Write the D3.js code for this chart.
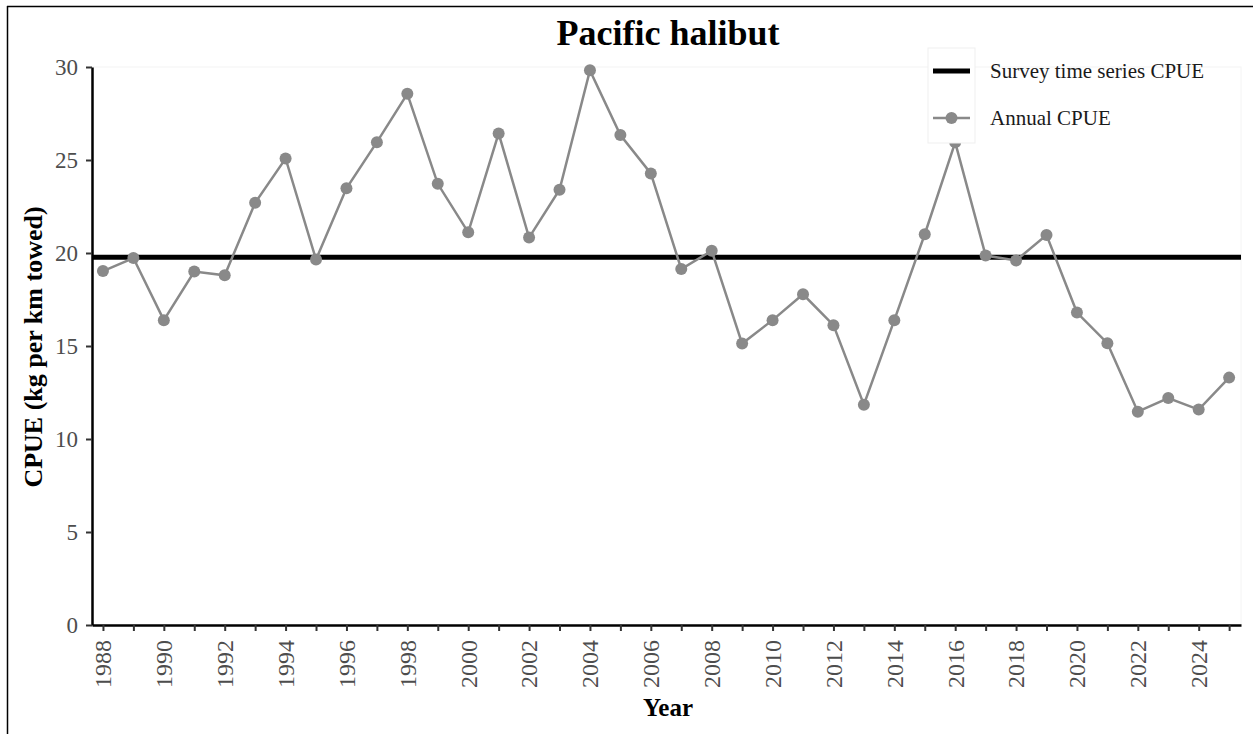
<!DOCTYPE html>
<html>
<head>
<meta charset="utf-8">
<script src="https://cdn.jsdelivr.net/npm/d3@7"></script>
<style>
  html, body { margin: 0; padding: 0; background: #fff; }
  svg { display: block; }
  text { font-family: "Liberation Serif", "Times New Roman", serif; }
</style>
</head>
<body>
<svg id="chart" width="1253" height="734"></svg>
<script>
const title = "Pacific halibut";
const years = [1988,1989,1990,1991,1992,1993,1994,1995,1996,1997,1998,1999,2000,2001,2002,2003,2004,2005,2006,2007,2008,2009,2010,2011,2012,2013,2014,2015,2016,2017,2018,2019,2020,2021,2022,2023,2024,2025];
const annualCPUE = [19.03,19.73,16.39,19.0,18.8,22.7,25.08,19.65,23.48,25.96,28.56,23.72,21.11,26.43,20.83,23.4,29.82,26.34,24.28,19.14,20.12,15.13,16.39,17.78,16.12,11.84,16.39,21.01,25.95,19.86,19.6,20.97,16.8,15.15,11.47,12.2,11.58,13.3];
const surveyCPUE = 19.77;
const yTicks = [0,5,10,15,20,25,30];
const xLabelYears = [1988,1990,1992,1994,1996,1998,2000,2002,2004,2006,2008,2010,2012,2014,2016,2018,2020,2022,2024];
const legendLabels = ["Survey time series CPUE", "Annual CPUE"];

const svg = d3.select("#chart");
const pLeft = 92, pRight = 1241, pTop = 67, pBottom = 625;

const x = d3.scaleLinear().domain([1987.64, 2025.39]).range([pLeft, pRight]);
const y = d3.scaleLinear().domain([0, 30]).range([pBottom, pTop]);

// outer frame (top and left)
svg.append("line").attr("x1", 7).attr("x2", 1253).attr("y1", 6.5).attr("y2", 6.5)
  .attr("stroke", "#000").attr("stroke-width", 1.5);
svg.append("line").attr("x1", 7.5).attr("x2", 7.5).attr("y1", 6).attr("y2", 734)
  .attr("stroke", "#000").attr("stroke-width", 1.5);

// faint panel border
svg.append("rect").attr("x", pLeft).attr("y", pTop).attr("width", pRight - pLeft).attr("height", pBottom - pTop)
  .attr("fill", "none").attr("stroke", "#f4f4f4").attr("stroke-width", 1);

// title
svg.append("text").attr("x", 668).attr("y", 45).attr("text-anchor", "middle")
  .attr("font-size", 36).attr("font-weight", "bold").attr("fill", "#000").text(title);

// survey line
svg.append("line")
  .attr("x1", pLeft).attr("x2", pRight)
  .attr("y1", y(surveyCPUE)).attr("y2", y(surveyCPUE))
  .attr("stroke", "#000").attr("stroke-width", 5);

// annual line
const data = years.map((yr, i) => ({ yr, v: annualCPUE[i] }));
const gray = "#898989";
svg.append("path").datum(data)
  .attr("fill", "none").attr("stroke", gray).attr("stroke-width", 2.5)
  .attr("d", d3.line().x(d => x(d.yr)).y(d => y(d.v)));
svg.append("g").selectAll("circle").data(data).join("circle")
  .attr("cx", d => x(d.yr)).attr("cy", d => y(d.v)).attr("r", 6).attr("fill", gray);

// legend box (covers data)
svg.append("rect").attr("x", 928).attr("y", 48).attr("width", 47).attr("height", 95)
  .attr("fill", "#fff").attr("stroke", "#efefef").attr("stroke-width", 1);
svg.append("line").attr("x1", 933).attr("x2", 970).attr("y1", 71).attr("y2", 71)
  .attr("stroke", "#000").attr("stroke-width", 5);
svg.append("line").attr("x1", 933).attr("x2", 970).attr("y1", 118).attr("y2", 118)
  .attr("stroke", gray).attr("stroke-width", 2.5);
svg.append("circle").attr("cx", 951.5).attr("cy", 118).attr("r", 6).attr("fill", gray);
svg.append("text").attr("x", 990).attr("y", 78).attr("font-size", 21).attr("fill", "#1a1a1a").text(legendLabels[0]);
svg.append("text").attr("x", 990).attr("y", 125).attr("font-size", 21).attr("fill", "#1a1a1a").text(legendLabels[1]);

// y axis
const yAxis = svg.append("g").attr("transform", `translate(${pLeft},0)`)
  .call(d3.axisLeft(y).tickValues(yTicks).tickSize(6).tickPadding(8).tickSizeOuter(0));
yAxis.select(".domain").attr("stroke", "#000").attr("stroke-width", 2.5);
yAxis.selectAll(".tick line").attr("stroke", "#333").attr("stroke-width", 2);
yAxis.selectAll(".tick text").attr("font-size", 23).attr("fill", "#4d4d4d")
  .attr("font-family", "Liberation Serif").attr("dy", "0.33em");

// x axis
const xAxis = svg.append("g").attr("transform", `translate(0,${pBottom})`)
  .call(d3.axisBottom(x).tickValues(years).tickSize(6).tickSizeOuter(0).tickFormat(d => xLabelYears.includes(d) ? String(d) : ""));
xAxis.select(".domain").attr("stroke", "#000").attr("stroke-width", 2.5);
xAxis.selectAll(".tick line").attr("stroke", "#333").attr("stroke-width", 2);
xAxis.selectAll(".tick text")
  .attr("font-size", 24).attr("fill", "#4d4d4d").attr("font-family", "Liberation Serif")
  .attr("text-anchor", "end")
  .attr("transform", "rotate(-90)")
  .attr("x", -15).attr("y", 0).attr("dy", "0.33em");

// axis titles
svg.append("text").attr("x", 668).attr("y", 716).attr("text-anchor", "middle")
  .attr("font-size", 25).attr("font-weight", "bold").attr("fill", "#000").text("Year");
svg.append("text").attr("transform", "translate(42,347) rotate(-90)").attr("text-anchor", "middle")
  .attr("font-size", 26).attr("font-weight", "bold").attr("fill", "#000").text("CPUE (kg per km towed)");
</script>
</body>
</html>
